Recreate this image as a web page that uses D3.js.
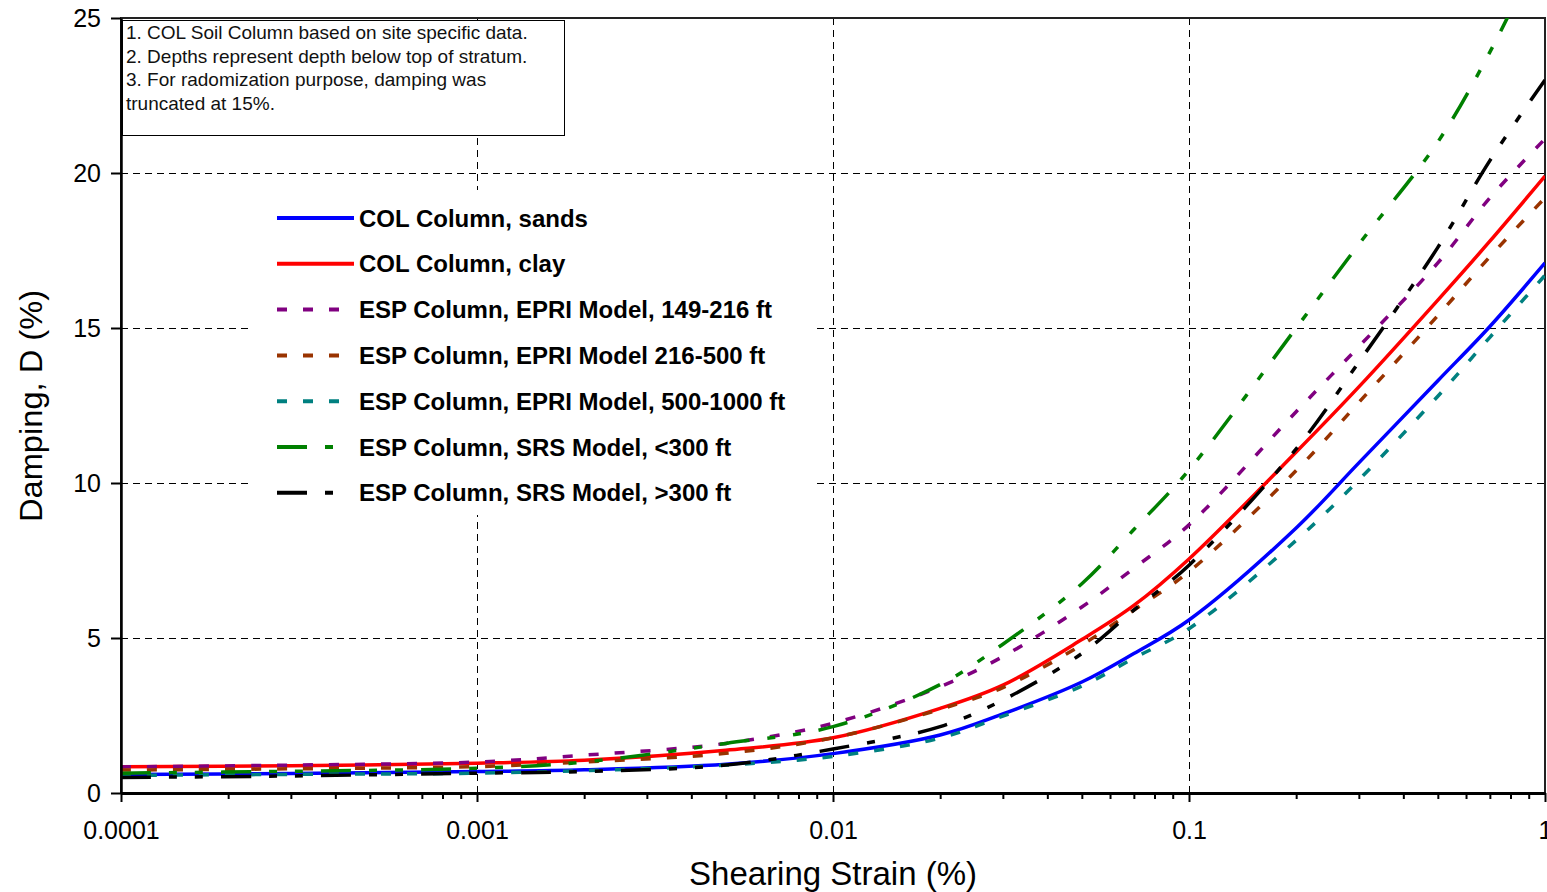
<!DOCTYPE html>
<html>
<head>
<meta charset="utf-8">
<script src="https://cdn.jsdelivr.net/npm/d3@7"></script>
<style>
  html, body { margin: 0; padding: 0; background: #fff; }
  svg { display: block; font-family: "Liberation Sans", Arial, sans-serif; }
</style>
</head>
<body>
<div id="chart"></div>
<script>
// shearing strain (%) sample points shared by all curves
const strains = [0.0001, 0.0003, 0.001, 0.002, 0.005, 0.01, 0.02, 0.03, 0.05, 0.07, 0.1, 0.2, 0.3, 0.5, 0.7, 1];

// damping (%)
const colSands   = [0.60, 0.63, 0.69, 0.75, 0.93, 1.27, 1.87, 2.55, 3.58, 4.50, 5.58, 8.55, 10.65, 13.3, 15.05, 17.1];
const colClay    = [0.85, 0.88, 0.96, 1.06, 1.38, 1.78, 2.73, 3.48, 4.95, 6.05, 7.55, 11.0, 13.1, 15.9, 17.8, 19.9];
const epri149    = [0.84, 0.90, 1.00, 1.22, 1.60, 2.25, 3.43, 4.40, 6.00, 7.25, 8.65, 12.3, 14.4, 17.1, 19.2, 21.1];
const epri216    = [0.74, 0.78, 0.85, 1.00, 1.28, 1.78, 2.70, 3.40, 4.78, 5.90, 7.14, 10.4, 12.6, 15.4, 17.3, 19.2];
const epri500    = [0.57, 0.60, 0.64, 0.72, 0.90, 1.18, 1.77, 2.48, 3.45, 4.35, 5.30, 8.15, 10.1, 12.8, 14.7, 16.7];
const srsBelow300 = [0.64, 0.70, 0.80, 1.00, 1.60, 2.14, 3.50, 4.80, 6.75, 8.50, 10.42, 15.0, 17.7, 21.0, 23.9, 27.5];
const srsAbove300 = [0.50, 0.55, 0.64, 0.69, 0.90, 1.42, 2.14, 3.00, 4.50, 5.90, 7.35, 11.1, 13.9, 17.6, 20.4, 23.0];

const seriesNames = [
    'COL Column, sands',
    'COL Column, clay',
    'ESP Column, EPRI Model, 149-216 ft',
    'ESP Column, EPRI Model 216-500 ft',
    'ESP Column, EPRI Model, 500-1000 ft',
    'ESP Column, SRS Model, <300 ft',
    'ESP Column, SRS Model, >300 ft'
];
const seriesValues = [colSands, colClay, epri149, epri216, epri500, srsBelow300, srsAbove300];

const xTicks = [0.0001, 0.001, 0.01, 0.1, 1];
const xTickLabels = ['0.0001', '0.001', '0.01', '0.1', '1'];
const yTicks = [0, 5, 10, 15, 20, 25];

const notes = [
    '1. COL Soil Column based on site specific data.',
    '2. Depths represent depth below top of stratum.',
    '3. For radomization purpose, damping was',
    'truncated at 15%.'
];

// styling
const colors = ['#0000ff', '#ff0000', '#800080', '#993300', '#008080', '#008000', '#000000'];
const dashes = [null, null, '10,16', '10,16', '10,16', '30,18,8,18,8,18', '30,18,8,18,8,18'];

const width = 1547, height = 892;
const plot = { left: 121, right: 1545, top: 18, bottom: 793 };

const svg = d3.select('#chart').append('svg')
    .attr('width', width)
    .attr('height', height);

const x = d3.scaleLog().domain([0.0001, 1]).range([plot.left, plot.right]);
const y = d3.scaleLinear().domain([0, 25]).range([plot.bottom, plot.top]);

// gridlines
const grid = svg.append('g')
    .attr('stroke', '#000')
    .attr('stroke-width', 1)
    .attr('stroke-dasharray', '7,5');

grid.selectAll('line.gx')
    .data(xTicks.slice(1, -1))
    .join('line')
    .attr('x1', d => Math.round(x(d)) + 0.5)
    .attr('x2', d => Math.round(x(d)) + 0.5)
    .attr('y1', plot.top)
    .attr('y2', plot.bottom);

grid.selectAll('line.gy')
    .data(yTicks.slice(1, -1))
    .join('line')
    .attr('x1', plot.left)
    .attr('x2', plot.right)
    .attr('y1', d => Math.round(y(d)) + 0.5)
    .attr('y2', d => Math.round(y(d)) + 0.5);

// frame (top / right)
svg.append('rect')
    .attr('x', plot.left)
    .attr('y', plot.top)
    .attr('width', plot.right - plot.left)
    .attr('height', plot.bottom - plot.top)
    .attr('fill', 'none')
    .attr('stroke', '#222')
    .attr('stroke-width', 2);

// white panel behind the legend hides the grid there
svg.append('rect')
    .attr('x', 252)
    .attr('y', 190)
    .attr('width', 562)
    .attr('height', 325)
    .attr('fill', '#fff');

// notes box
svg.append('rect')
    .attr('x', 122.5)
    .attr('y', 20.5)
    .attr('width', 442)
    .attr('height', 115)
    .attr('fill', '#fff')
    .attr('stroke', '#000')
    .attr('stroke-width', 1);

svg.append('g')
    .selectAll('text')
    .data(notes)
    .join('text')
    .attr('x', 126)
    .attr('y', (d, i) => 39 + i * 23.5)
    .attr('font-size', '19px')
    .attr('fill', '#111')
    .text(d => d);

// curves
svg.append('clipPath').attr('id', 'plot-clip')
    .append('rect')
    .attr('x', plot.left)
    .attr('y', plot.top)
    .attr('width', plot.right - plot.left)
    .attr('height', plot.bottom - plot.top);

const line = d3.line()
    .x(d => x(d[0]))
    .y(d => y(d[1]))
    .curve(d3.curveCatmullRom.alpha(0.5));

const curves = svg.append('g').attr('clip-path', 'url(#plot-clip)');
seriesValues.forEach((vals, i) => {
    curves.append('path')
        .datum(strains.map((s, j) => [s, vals[j]]))
        .attr('d', line)
        .attr('fill', 'none')
        .attr('stroke', colors[i])
        .attr('stroke-width', 3.5)
        .attr('stroke-dasharray', dashes[i]);
});

// axes
const xAxis = svg.append('g')
    .attr('transform', `translate(0,${plot.bottom})`)
    .call(d3.axisBottom(x)
        .tickValues(xTicks)
        .tickSize(9)
        .tickSizeOuter(0)
        .tickPadding(19)
        .tickFormat((d, i) => xTickLabels[i]));

const minorTicks = [];
xTicks.slice(0, -1).forEach(t => {
    for (let k = 2; k <= 9; k++) minorTicks.push(t * k);
});
svg.append('g')
    .attr('transform', `translate(0,${plot.bottom})`)
    .call(d3.axisBottom(x)
        .tickValues(minorTicks)
        .tickSize(6)
        .tickSizeOuter(0)
        .tickFormat(''))
    .select('.domain').remove();

const yAxis = svg.append('g')
    .attr('transform', `translate(${plot.left},0)`)
    .call(d3.axisLeft(y)
        .tickValues(yTicks)
        .tickSize(10)
        .tickSizeOuter(0)
        .tickPadding(10));

svg.selectAll('.tick line, .domain')
    .attr('stroke', '#000')
    .attr('stroke-width', 2);
xAxis.select('.domain').attr('stroke-width', 3);
yAxis.select('.domain').attr('stroke-width', 2.5);
svg.selectAll('.tick text')
    .attr('font-family', '"Liberation Sans", Arial, sans-serif')
    .attr('font-size', '25px')
    .attr('fill', '#000');

// axis titles
svg.append('text')
    .attr('x', (plot.left + plot.right) / 2)
    .attr('y', 885)
    .attr('text-anchor', 'middle')
    .attr('font-size', '33px')
    .attr('fill', '#000')
    .text('Shearing Strain (%)');

svg.append('text')
    .attr('transform', 'translate(42,406) rotate(-90)')
    .attr('text-anchor', 'middle')
    .attr('font-family', '"Liberation Sans Narrow", "Arial Narrow", "Liberation Sans", sans-serif')
    .attr('font-size', '31px')
    .attr('textLength', 232)
    .attr('lengthAdjust', 'spacingAndGlyphs')
    .attr('fill', '#000')
    .text('Damping, D (%)');

// legend
const legend = svg.append('g');
seriesNames.forEach((name, i) => {
    const ly = 218 + i * 45.8;
    const solid = !dashes[i];
    legend.append('line')
        .attr('x1', 277)
        .attr('x2', solid ? 354 : 344)
        .attr('y1', ly)
        .attr('y2', ly)
        .attr('stroke', colors[i])
        .attr('stroke-width', 4)
        .attr('stroke-dasharray', dashes[i]);
    legend.append('text')
        .attr('x', 359)
        .attr('y', ly)
        .attr('dy', '0.36em')
        .attr('font-size', '24px')
        .attr('font-weight', 'bold')
        .attr('fill', '#000')
        .text(name);
});
</script>
</body>
</html>
